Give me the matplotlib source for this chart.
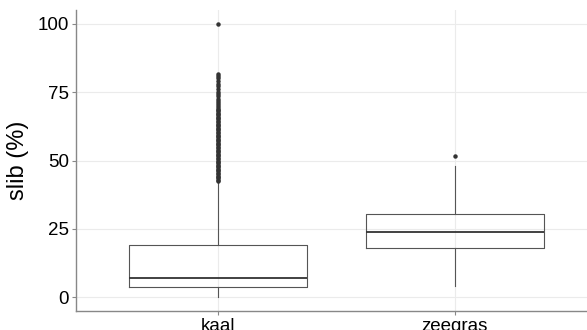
import numpy as np
import matplotlib
matplotlib.use('Agg')
import matplotlib.pyplot as plt

plt.rcParams['font.family'] = ['Liberation Sans', 'DejaVu Sans']

#%% datos
groepen = ['kaal', 'zeegras']
q1 = [3.6, 18.1]
mediaan = [7.0, 23.9]
q3 = [19.0, 30.4]
whisker_laag = [0.0, 4.3]
whisker_hoog = [41.8, 48.1]
# uitschieters kaal: dichte kolom van ~42.5 tot ~70, daarna losser tot 81.7, en 1 punt op 100
uitschieters_kaal = [42.5, 43.0, 43.5, 44.0, 44.5, 45.0, 45.5, 46.0, 46.5, 47.0, 47.5,
                     48.0, 48.5, 49.0, 49.5, 50.0, 50.5, 51.0, 51.5, 52.0, 52.5, 53.0,
                     53.5, 54.0, 54.5, 55.0, 55.5, 56.0, 56.5, 57.0, 57.5, 58.0, 58.5,
                     59.0, 59.5, 60.0, 60.5, 61.0, 61.5, 62.0, 62.5, 63.0, 63.5, 64.0,
                     64.5, 65.0, 65.5, 66.0, 66.5, 67.0, 67.5, 68.0, 68.5, 69.0, 69.6,
                     70.3, 71.0, 71.8, 72.5, 73.4, 74.2, 75.0, 76.0, 77.1, 78.0, 79.0,
                     80.0, 80.9, 81.7, 100.0]
uitschieters_zeegras = [51.8]
uitschieters = [uitschieters_kaal, uitschieters_zeegras]

#%%
stats = []
for i in range(len(groepen)):
    stats.append(dict(label=groepen[i], q1=q1[i], med=mediaan[i], q3=q3[i],
                      whislo=whisker_laag[i], whishi=whisker_hoog[i],
                      fliers=uitschieters[i]))

fig = plt.figure(figsize=(5.87, 3.30), dpi=100)
ax = fig.add_axes([76/587, 19/330, (597-76)/587, (311-10)/330])

kleur = '#555555'
ax.bxp(stats, positions=[1, 2], widths=0.75, patch_artist=False,
       showcaps=False,
       boxprops=dict(color=kleur, linewidth=0.8),
       whiskerprops=dict(color=kleur, linewidth=0.8),
       medianprops=dict(color='#333333', linewidth=1.3),
       flierprops=dict(marker='o', markersize=2.2, markerfacecolor='#333333',
                       markeredgecolor='#333333', linestyle='none'))

ax.set_xlim(0.4, 2.6)
ax.set_ylim(-5, 105)
ax.set_yticks([0, 25, 50, 75, 100])
ax.set_xticks([1, 2])
ax.set_xticklabels(groepen)
ax.grid(True, color='#ebebeb', linewidth=0.8)
ax.set_axisbelow(True)
for s in ['top', 'right']:
    ax.spines[s].set_visible(False)
for s in ['left', 'bottom']:
    ax.spines[s].set_color('#888888')
    ax.spines[s].set_linewidth(1.0)
ax.tick_params(axis='both', colors='#888888', length=3, labelsize=13.5,
               labelcolor='black', pad=2)
ax.set_ylabel('slib (%)', fontsize=17, labelpad=6)

plt.savefig('out.png', dpi=100)
